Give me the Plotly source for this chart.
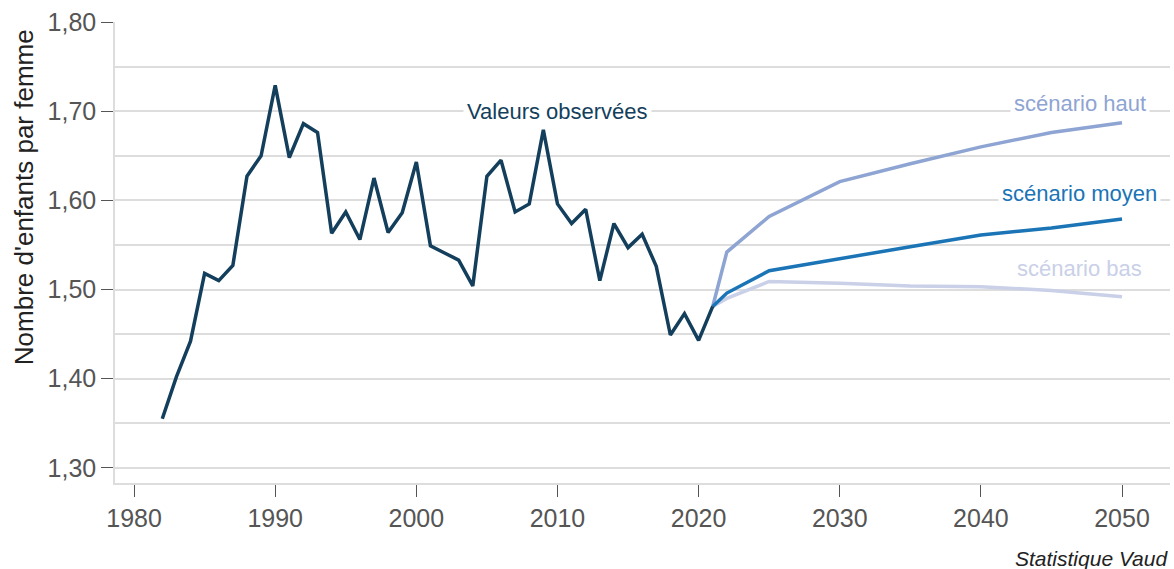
import plotly.graph_objects as go

obs_years = list(range(1982, 2022))
obs_values = [1.355, 1.402, 1.442, 1.518, 1.510, 1.527, 1.627, 1.650, 1.729, 1.648,
              1.686, 1.676, 1.563, 1.587, 1.556, 1.625, 1.564, 1.586, 1.643, 1.549,
              1.541, 1.533, 1.504, 1.627, 1.645, 1.587, 1.596, 1.679, 1.596, 1.574,
              1.590, 1.510, 1.574, 1.547, 1.562, 1.526, 1.449, 1.473, 1.443, 1.481]

scen_years = [2021, 2022, 2025, 2030, 2035, 2040, 2045, 2050]
haut_values = [1.481, 1.542, 1.582, 1.621, 1.641, 1.660, 1.676, 1.687]
moyen_values = [1.481, 1.496, 1.521, 1.535, 1.548, 1.561, 1.569, 1.579]
bas_values = [1.481, 1.490, 1.509, 1.507, 1.504, 1.503, 1.499, 1.492]

y_ticks = [1.30, 1.40, 1.50, 1.60, 1.70, 1.80]
x_ticks = [1980, 1990, 2000, 2010, 2020, 2030, 2040, 2050]

C_OBS = "#133f5c"
C_HAUT = "#8ea4d2"
C_MOY = "#1a74b6"
C_BAS = "#c9d0e8"

LW = 3.5

fig = go.Figure()
fig.add_trace(go.Scatter(x=scen_years, y=bas_values, mode="lines",
                         line=dict(color=C_BAS, width=LW), showlegend=False))
fig.add_trace(go.Scatter(x=scen_years, y=haut_values, mode="lines",
                         line=dict(color=C_HAUT, width=LW), showlegend=False))
fig.add_trace(go.Scatter(x=scen_years, y=moyen_values, mode="lines",
                         line=dict(color=C_MOY, width=LW), showlegend=False))
fig.add_trace(go.Scatter(x=obs_years, y=obs_values, mode="lines",
                         line=dict(color=C_OBS, width=LW), showlegend=False))

font = "Liberation Sans, Arial, sans-serif"


def label(x, y, text, color):
    fig.add_annotation(x=x, y=y, text=text, showarrow=False, bgcolor="white",
                       borderpad=3, font=dict(family=font, size=22, color=color))


label(2010.0, 1.700, "Valeurs observées", C_OBS)
label(2047.0, 1.709, "scénario haut", C_HAUT)
label(2047.0, 1.608, "scénario moyen", C_MOY)
label(2047.0, 1.524, "scénario bas", C_BAS)

# y-axis title (placed as annotation to match its vertical position)
fig.add_annotation(x=0, y=0.62, xref="paper", yref="paper", xshift=-91,
                   text="Nombre d'enfants par femme", textangle=-90,
                   showarrow=False, xanchor="center", yanchor="middle",
                   font=dict(family=font, size=26, color="#222"))

fig.add_annotation(x=1.0, y=0, xref="paper", yref="paper", yshift=-75,
                   xanchor="right", yanchor="middle", text="<i>Statistique Vaud</i>",
                   showarrow=False, font=dict(family=font, size=21, color="#222"))

fig.update_layout(
    width=1174, height=569,
    margin=dict(l=115, r=4, t=22, b=86),
    plot_bgcolor="white", paper_bgcolor="white",
    separators=", ",
    font=dict(family=font),
    xaxis=dict(range=[1978.65, 2053.4], tickvals=x_ticks, showgrid=False,
               showline=True, linecolor="#dddddd", linewidth=1.5,
               ticks="outside", ticklen=12, tickcolor="#555", tickwidth=1,
               tickfont=dict(size=25, color="#555"), zeroline=False,
               automargin=False),
    yaxis=dict(range=[1.283, 1.80], tickvals=y_ticks, tickformat=".2f",
               showgrid=True, gridcolor="#dddddd", gridwidth=1.5,
               minor=dict(dtick=0.05, tick0=1.30, showgrid=True, gridcolor="#dddddd", gridwidth=1.5),
               showline=True, linecolor="#dddddd", linewidth=1.5,
               ticks="outside", ticklen=12, tickcolor="#555", tickwidth=1,
               tickfont=dict(size=25, color="#555"), zeroline=False,
               automargin=False),
)

fig.write_html("out.html", config={"displayModeBar": False},
               post_script="document.body.style.margin='0';document.body.style.overflow='hidden';")
